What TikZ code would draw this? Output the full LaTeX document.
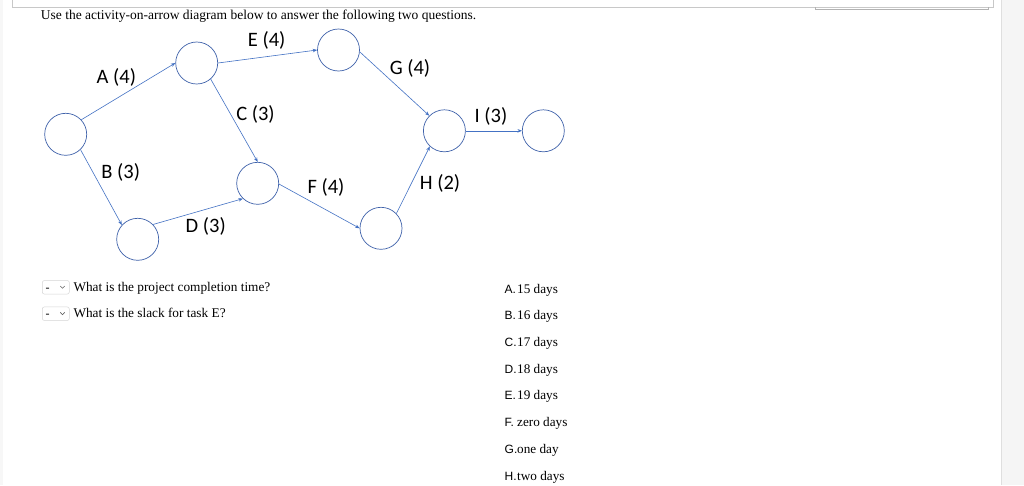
\documentclass[tikz,border=0pt]{standalone}
\usepackage{fontspec}
\setmainfont{Liberation Serif}
\newfontfamily\carlito{Carlito}
\newfontfamily\arialf{Liberation Sans}
\usetikzlibrary{arrows.meta}
\definecolor{arrowblue}{HTML}{4472C4}
\definecolor{circblue}{HTML}{3F62AA}
\definecolor{framegray}{HTML}{C8C8C8}
\definecolor{panelgray}{HTML}{F5F5F5}
\definecolor{ddgray}{HTML}{D5D5D5}
\begin{document}
\begin{tikzpicture}[x=1pt,y=-1pt,
  evt/.style={circle,draw=circblue,line width=0.7pt,minimum size=42pt,inner sep=0pt},
  act/.style={draw=arrowblue,line width=0.6pt,-{Stealth[length=4.5pt,width=3.5pt]}},
  lbl/.style={font=\carlito\fontsize{20.5}{24}\selectfont,inner sep=0pt},
  qtxt/.style={font=\fontsize{13.3}{15}\selectfont,anchor=base west,inner sep=0pt},
  ansletter/.style={font=\arialf\fontsize{12}{14}\selectfont,anchor=base west,inner sep=0pt},
  anstxt/.style={font=\fontsize{13.2}{15}\selectfont,anchor=base west,inner sep=0pt},
  ddbox/.style={draw=ddgray,line width=0.5pt,rounded corners=2pt,minimum width=27pt,minimum height=13.5pt,inner sep=0pt}]
\useasboundingbox (0,0) rectangle (1024,485);
\fill[white] (0,0) rectangle (1024,485);
% page frame
\fill[gray!6] (0,0) rectangle (3,485);
\fill[panelgray] (1001,0) rectangle (1024,485);
\draw[gray!25,line width=0.5pt] (1001,0) -- (1001,485);
\draw[framegray,line width=0.8pt] (12,0) -- (12,7) -- (993,7) -- (993,0);
\draw[gray!60,line width=0.8pt] (815,7) -- (815,9) -- (988,9) -- (988,7);
% header
\node[qtxt,font=\fontsize{13.5}{15}\selectfont] (hdr) at (40.7,19.3) {Use the activity-on-arrow diagram below to answer the following two questions.};
% events
\node[evt] (n1) at (65.7,134.3) {};
\node[evt] (n2) at (196.7,63) {};
\node[evt] (n3) at (338.5,50) {};
\node[evt] (n4) at (257.7,183.3) {};
\node[evt] (n5) at (137.7,239.3) {};
\node[evt] (n6) at (381,228.3) {};
\node[evt] (n7) at (444.4,130.8) {};
\node[evt] (n8) at (543.3,130.8) {};
% activities
\draw[act] (n1.43) -- (n2.180);
\draw[act] (n2.0) -- (n3.180);
\draw[act] (n2.-49) -- (n4.90);
\draw[act] (n1.-46) -- (n5.138);
\draw[act] (n5.44) -- (n4.226);
\draw[act] (n4.-2) -- (n6.180);
\draw[act] (n3.-5) -- (n7.135);
\draw[act] (n6.44) -- (n7.227);
\draw[act] (n7.0) -- (n8.180);
% labels
\node[lbl] (lE) at (266.7,40) {E (4)};
\node[lbl] (lA) at (116.3,77.5) {A (4)};
\node[lbl] (lC) at (255.5,114.5) {C (3)};
\node[lbl] (lB) at (120.7,172.3) {B (3)};
\node[lbl] (lD) at (205.7,226.7) {D (3)};
\node[lbl] (lF) at (326,187.7) {F (4)};
\node[lbl] (lG) at (410,68.3) {G (4)};
\node[lbl] (lI) at (491,116.7) {I (3)};
\node[lbl] (lH) at (440,183.3) {H (2)};
% dropdowns
\node[ddbox] (dd1) at (55.8,287.3) {};
\node[ddbox] (dd2) at (55.8,313.7) {};
\node[inner sep=0pt,font=\fontsize{12}{14}\selectfont,anchor=base] (m1) at (47.5,291) {-};
\node[inner sep=0pt,font=\fontsize{12}{14}\selectfont,anchor=base] (m2) at (47.5,317.3) {-};
\draw[gray!80!black,line width=0.6pt] (60.3,286) -- (62.5,288.3) -- (64.7,286);
\draw[gray!80!black,line width=0.6pt] (60.3,312.4) -- (62.5,314.7) -- (64.7,312.4);
\node[qtxt] (q1) at (73.3,291) {What is the project completion time?};
\node[qtxt] (q2) at (73.3,317.3) {What is the slack for task E?};
% answers
\foreach \L/\T [count=\k from 0] in {A./15 days,B./16 days,C./17 days,D./18 days,E./19 days,F./zero days,G./one day,H./two days}{
  \node[ansletter] (al\k) at (504.5,293.3+26.67*\k) {\L};
  \node[anstxt] (at\k) at (517,293.3+26.67*\k) {\T};
}
\end{tikzpicture}
\end{document}
